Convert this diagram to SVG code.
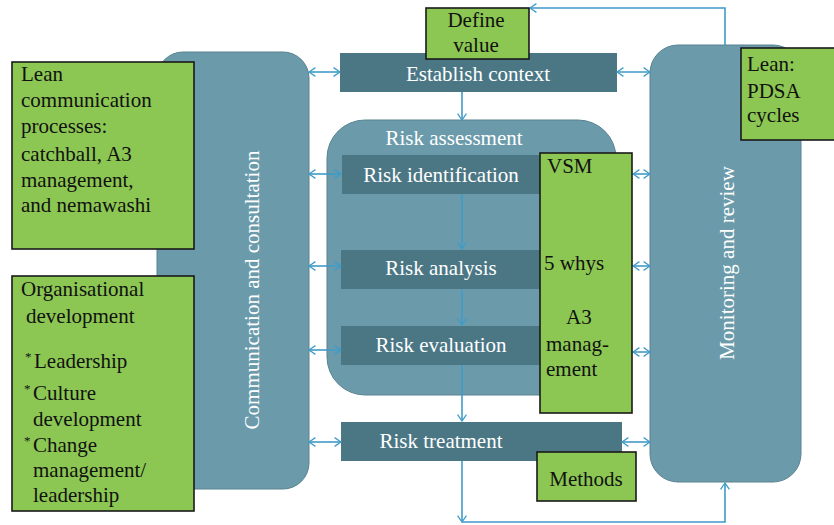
<svg xmlns="http://www.w3.org/2000/svg" width="834" height="525" viewBox="0 0 834 525">
  <style>
    .panel { fill: #6b9bab; stroke: #58828f; stroke-width: 1; }
    .bar { fill: #4b7785; }
    .lean { fill: #8cc753; stroke: #1a1a1a; stroke-width: 1.6; }
    .wt { font-family: "Liberation Serif", "DejaVu Serif", serif; font-size: 21px; fill: #ffffff; }
    .bt { font-family: "Liberation Serif", "DejaVu Serif", serif; font-size: 21px; fill: #111111; }
    .star { font-family: "Liberation Serif", "DejaVu Serif", serif; font-size: 13px; fill: #111111; }
    .link { fill: none; stroke: #3f9bc8; stroke-width: 1.6; }
  </style>
  <defs>
    <marker id="chev" viewBox="0 0 10 12" refX="9" refY="6" markerWidth="8" markerHeight="11" markerUnits="userSpaceOnUse" orient="auto-start-reverse">
      <path d="M1,0.5 L9,6 L1,11.5" fill="none" stroke="#3f9bc8" stroke-width="1.6"/>
    </marker>
  </defs>

  <rect width="834" height="525" fill="#ffffff"/>

  <!-- side panels -->
  <g id="communication">
    <rect class="panel" x="157" y="52" width="152" height="437" rx="26"/>
    <text class="wt" transform="translate(259,290) rotate(-90)" text-anchor="middle">Communication and consultation</text>
  </g>
  <g id="monitoring">
    <rect class="panel" x="650" y="45" width="151" height="437" rx="28"/>
    <text class="wt" transform="translate(734,263) rotate(-90)" text-anchor="middle">Monitoring and review</text>
  </g>

  <!-- risk assessment frame -->
  <g id="risk-assessment">
    <rect class="panel" x="327" y="120" width="289" height="275" rx="38"/>
    <text class="wt" x="454" y="145" text-anchor="middle">Risk assessment</text>
  </g>

  <!-- process steps -->
  <g id="establish-context">
    <rect class="bar" x="340" y="53" width="277" height="39"/>
    <text class="wt" x="478" y="81" text-anchor="middle">Establish context</text>
  </g>
  <g id="risk-identification">
    <rect class="bar" x="342" y="155" width="200" height="39"/>
    <text class="wt" x="441" y="182" text-anchor="middle">Risk identification</text>
  </g>
  <g id="risk-analysis">
    <rect class="bar" x="341" y="250" width="201" height="39"/>
    <text class="wt" x="441" y="275" text-anchor="middle">Risk analysis</text>
  </g>
  <g id="risk-evaluation">
    <rect class="bar" x="341" y="326" width="201" height="39"/>
    <text class="wt" x="441" y="352" text-anchor="middle">Risk evaluation</text>
  </g>
  <g id="risk-treatment">
    <rect class="bar" x="341" y="422" width="281" height="39"/>
    <text class="wt" x="441" y="448" text-anchor="middle">Risk treatment</text>
  </g>

  <!-- connectors -->
  <g id="connectors">
    <!-- main flow -->
    <line class="link" x1="462" y1="92" x2="462" y2="120" marker-end="url(#chev)"/>
    <line class="link" x1="462" y1="194" x2="462" y2="249" marker-end="url(#chev)"/>
    <line class="link" x1="462" y1="289" x2="462" y2="325" marker-end="url(#chev)"/>
    <line class="link" x1="462" y1="365" x2="462" y2="421" marker-end="url(#chev)"/>
    <!-- communication links -->
    <line class="link" x1="309" y1="72" x2="340" y2="72" marker-start="url(#chev)" marker-end="url(#chev)"/>
    <line class="link" x1="309" y1="174" x2="341" y2="174" marker-start="url(#chev)" marker-end="url(#chev)"/>
    <line class="link" x1="309" y1="266" x2="341" y2="266" marker-start="url(#chev)" marker-end="url(#chev)"/>
    <line class="link" x1="309" y1="350" x2="341" y2="350" marker-start="url(#chev)" marker-end="url(#chev)"/>
    <line class="link" x1="309" y1="442" x2="341" y2="442" marker-start="url(#chev)" marker-end="url(#chev)"/>
    <!-- monitoring links -->
    <line class="link" x1="617" y1="72" x2="650" y2="72" marker-start="url(#chev)" marker-end="url(#chev)"/>
    <line class="link" x1="633" y1="174" x2="650" y2="174" marker-start="url(#chev)" marker-end="url(#chev)"/>
    <line class="link" x1="633" y1="266" x2="650" y2="266" marker-start="url(#chev)" marker-end="url(#chev)"/>
    <line class="link" x1="633" y1="352" x2="650" y2="352" marker-start="url(#chev)" marker-end="url(#chev)"/>
    <line class="link" x1="622" y1="442" x2="650" y2="442" marker-start="url(#chev)" marker-end="url(#chev)"/>
    <!-- feedback loops -->
    <polyline class="link" points="725,45 725,8 530,8" marker-end="url(#chev)"/>
    <line class="link" x1="462" y1="461" x2="462" y2="522" marker-end="url(#chev)"/>
    <polyline class="link" points="462,522 725,522 725,483" marker-end="url(#chev)"/>
  </g>

  <!-- lean annotations -->
  <g id="lean-communication">
    <rect class="lean" x="12" y="62" width="182" height="187"/>
    <text class="bt" x="21" y="81">Lean</text>
    <text class="bt" x="21" y="107">communication</text>
    <text class="bt" x="21" y="133">processes:</text>
    <text class="bt" x="21" y="161">catchball, A3</text>
    <text class="bt" x="21" y="187">management,</text>
    <text class="bt" x="21" y="212">and nemawashi</text>
  </g>
  <g id="organisational-development">
    <rect class="lean" x="12" y="276" width="182" height="235"/>
    <text class="bt" x="21" y="296">Organisational</text>
    <text class="bt" x="26" y="323">development</text>
    <text class="star" x="25" y="361">*</text>
    <text class="bt" x="34" y="368">Leadership</text>
    <text class="star" x="24" y="393">*</text>
    <text class="bt" x="33" y="400">Culture</text>
    <text class="bt" x="33" y="426">development</text>
    <text class="star" x="24" y="445">*</text>
    <text class="bt" x="33" y="452">Change</text>
    <text class="bt" x="33" y="477">management/</text>
    <text class="bt" x="33" y="502">leadership</text>
  </g>
  <g id="define-value">
    <rect class="lean" x="426" y="8" width="103" height="51"/>
    <text class="bt" x="476" y="27" text-anchor="middle">Define</text>
    <text class="bt" x="476" y="52" text-anchor="middle">value</text>
  </g>
  <g id="lean-pdsa">
    <rect class="lean" x="741" y="48" width="100" height="92"/>
    <text class="bt" x="747" y="71">Lean:</text>
    <text class="bt" x="747" y="98">PDSA</text>
    <text class="bt" x="747" y="122">cycles</text>
  </g>
  <g id="tools">
    <rect class="lean" x="540" y="153" width="92" height="260"/>
    <text class="bt" x="547" y="173">VSM</text>
    <text class="bt" x="544" y="270">5 whys</text>
    <text class="bt" x="566" y="324">A3</text>
    <text class="bt" x="546" y="351">manag-</text>
    <text class="bt" x="546" y="376">ement</text>
  </g>
  <g id="methods">
    <rect class="lean" x="537" y="452" width="99" height="49"/>
    <text class="bt" x="586" y="486" text-anchor="middle">Methods</text>
  </g>
</svg>
